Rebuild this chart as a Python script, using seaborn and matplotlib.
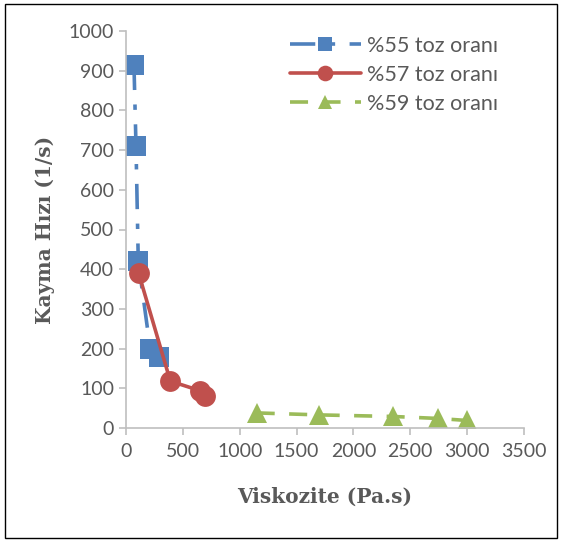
import matplotlib
matplotlib.use("Agg")
import matplotlib.pyplot as plt
import seaborn as sns
import pandas as pd
from matplotlib.patches import Rectangle

# Viscosity (Pa.s) vs shear rate (1/s) for three powder ratios
visc_55 = [70, 88, 108, 214, 290]
rate_55 = [915, 710, 420, 198, 178]

visc_57 = [111, 390, 651, 698]
rate_57 = [390, 118, 94, 80]

visc_59 = [1149, 1697, 2351, 2747, 2996]
rate_59 = [38, 33, 29, 24, 19]

labels = ["%55 toz oranı", "%57 toz oranı", "%59 toz oranı"]
colors = ["#4F81BD", "#C0504D", "#9BBB59"]

sns.set_theme(style="white")
plt.rcParams["font.family"] = ["Lato", "DejaVu Sans"]

fig = plt.figure(figsize=(5.61, 5.42), dpi=100)
ax = fig.add_axes([126 / 561, 1 - 428 / 542, (524 - 126) / 561, (428 - 31) / 542])

df55 = pd.DataFrame({"x": visc_55, "y": rate_55})
df57 = pd.DataFrame({"x": visc_57, "y": rate_57})
df59 = pd.DataFrame({"x": visc_59, "y": rate_59})

sns.lineplot(data=df55, x="x", y="y", ax=ax, sort=False, color=colors[0],
             marker="s", markersize=14, markeredgewidth=0, linewidth=2.6,
             dashes=False, label=labels[0])
ax.lines[-1].set_dashes([7, 4, 1.5, 4])
sns.lineplot(data=df57, x="x", y="y", ax=ax, sort=False, color=colors[1],
             marker="o", markersize=15, markeredgewidth=0, linewidth=2.6,
             label=labels[1])
sns.lineplot(data=df59, x="x", y="y", ax=ax, sort=False, color=colors[2],
             marker="^", markersize=14, markeredgewidth=0, linewidth=2.6,
             label=labels[2])
ax.lines[-1].set_dashes([5, 4])

ax.set_xlim(0, 3500)
ax.set_ylim(0, 1000)
ax.set_xticks(range(0, 3501, 500))
ax.set_yticks(range(0, 1001, 100))

for side in ["top", "right"]:
    ax.spines[side].set_visible(False)
for side in ["left", "bottom"]:
    ax.spines[side].set_color("#BFBFBF")
    ax.spines[side].set_linewidth(1.2)

ax.tick_params(axis="both", colors="#BFBFBF", labelcolor="#595959",
               labelsize=14, length=5, width=1.2, direction="out")
ax.tick_params(axis="x", bottom=True, pad=6)
ax.tick_params(axis="y", left=True)

ax.set_xlabel("Viskozite (Pa.s)", fontsize=14.5, fontweight="bold",
              family=["DejaVu Serif"], color="#595959", labelpad=19)
ax.set_ylabel("Kayma Hızı (1/s)", fontsize=14.5, fontweight="bold",
              family=["DejaVu Serif"], color="#595959", labelpad=10)

leg = ax.legend(loc="upper left", bbox_to_anchor=(0.363, 1.037), frameon=False,
                fontsize=15.5, handlelength=3.3, markerscale=0.75,
                labelspacing=0.42, handletextpad=0.3)
for t in leg.get_texts():
    t.set_color("#595959")

fig.patches.append(Rectangle((5 / 561, 4 / 542), 552 / 561, 534 / 542,
                             transform=fig.transFigure, fill=False,
                             edgecolor="black", linewidth=1))

fig.savefig("out.png", dpi=100)
